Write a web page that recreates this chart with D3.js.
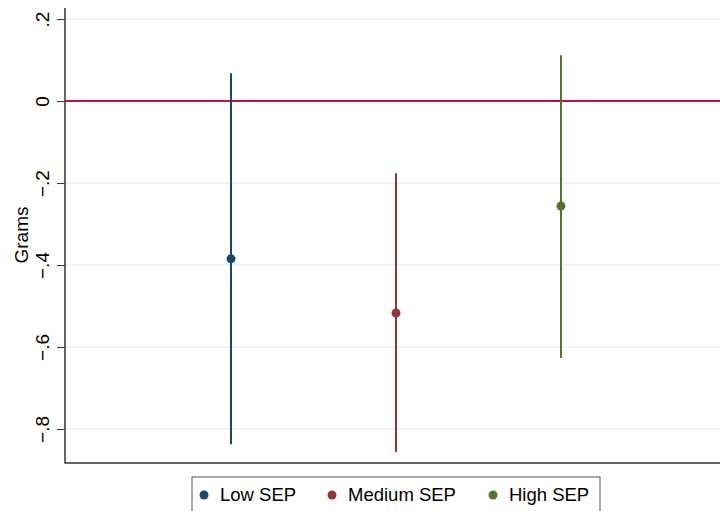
<!DOCTYPE html>
<html><head><meta charset="utf-8">
<script src="https://cdn.jsdelivr.net/npm/d3@7"></script>
<style>body{margin:0;background:#fff}svg{display:block;font-family:"Liberation Sans",Arial,sans-serif}</style>
</head><body><svg id="c" width="720" height="511"></svg>
<script>
const categories = ["Low SEP", "Medium SEP", "High SEP"];
const estimates = [-0.385, -0.517, -0.256];
const ciLower = [-0.837, -0.856, -0.627];
const ciUpper = [0.068, -0.176, 0.112];
const colors = ["#1a476f", "#90353b", "#55752f"];
const yTicks = [0.2, 0, -0.2, -0.4, -0.6, -0.8];
const yTickLabels = [".2", "0", "\u2212.2", "\u2212.4", "\u2212.6", "\u2212.8"];

const svg = d3.select("#c");
const pL = 65, pR = 720, pT = 8, pB = 463;
const y = d3.scaleLinear().domain([-0.883, 0.227]).range([pB, pT]);
const x = d3.scaleLinear().domain([0, 4]).range([66, 726]);

// gridlines
svg.append("g").selectAll("line").data(yTicks).join("line")
  .attr("x1", pL).attr("x2", pR)
  .attr("y1", d => y(d)).attr("y2", d => y(d))
  .attr("stroke", "#eaf1f3").attr("stroke-width", 1.5);

// reference line at 0
svg.append("line").attr("x1", pL).attr("x2", pR)
  .attr("y1", y(0)).attr("y2", y(0))
  .attr("stroke", "#c3103d").attr("stroke-width", 2);

// y axis
const yAxis = d3.axisLeft(y).tickValues(yTicks).tickSize(8)
  .tickFormat((d, i) => yTickLabels[i]);
const ga = svg.append("g").attr("transform", `translate(${pL},0)`).call(yAxis);
ga.select(".domain").remove();
ga.selectAll(".tick line").attr("stroke", "#333").attr("stroke-width", 1);
ga.selectAll(".tick text").attr("transform", "rotate(-90)")
  .attr("x", 0).attr("y", -23).attr("dy", "0.35em")
  .attr("text-anchor", "middle").attr("font-size", 19).attr("fill", "#000")
  .attr("font-family", "Liberation Sans, Arial, sans-serif");

// axis lines
svg.append("line").attr("x1", pL).attr("x2", pL).attr("y1", pT).attr("y2", pB + 0.5)
  .attr("stroke", "#333").attr("stroke-width", 1.5);
svg.append("line").attr("x1", pL).attr("x2", pR).attr("y1", pB).attr("y2", pB)
  .attr("stroke", "#333").attr("stroke-width", 1.5);

// y title
svg.append("text").attr("transform", `translate(21,235) rotate(-90)`)
  .attr("text-anchor", "middle").attr("dy", "0.35em").attr("font-size", 19).text("Grams");

// CI lines and points
const idx = d3.range(categories.length);
svg.append("g").selectAll("line").data(idx).join("line")
  .attr("x1", i => x(i + 1)).attr("x2", i => x(i + 1))
  .attr("y1", i => y(ciUpper[i])).attr("y2", i => y(ciLower[i]))
  .attr("stroke", i => colors[i]).attr("stroke-width", 2);
svg.append("g").selectAll("circle").data(idx).join("circle")
  .attr("cx", i => x(i + 1)).attr("cy", i => y(estimates[i])).attr("r", 4.5)
  .attr("fill", i => colors[i]);

// legend
svg.append("rect").attr("x", 192).attr("y", 477).attr("width", 408).attr("height", 45)
  .attr("fill", "#fff").attr("stroke", "#555").attr("stroke-width", 1);
const legX = [204, 332, 493];
const lg = svg.append("g").selectAll("g").data(idx).join("g")
  .attr("transform", i => `translate(${legX[i]},495)`);
lg.append("circle").attr("r", 4.5).attr("fill", i => colors[i]);
lg.append("text").attr("x", 16).attr("dy", "0.35em").attr("font-size", 18.5).text(i => categories[i]);
</script></body></html>
